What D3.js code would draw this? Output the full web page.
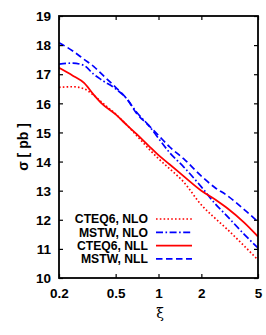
<!DOCTYPE html>
<html><head><meta charset="utf-8">
<script src="https://cdn.jsdelivr.net/npm/d3@7"></script>
<style>body{margin:0;background:#fff}svg{display:block}</style>
</head><body>
<script>
const xi = [0.2,0.25,0.3,0.35,0.4,0.5,0.6,0.7,0.85,1,1.2,1.5,2,2.5,3,4,5];
const cteqNLO = [16.55,16.57,16.5,16.28,16.03,15.63,15.25,14.9,14.45,14.1,13.75,13.3,12.51,12.05,11.7,11.1,10.62];
const mstwNLO = [17.35,17.38,17.3,17.0,16.8,16.5,16.15,15.7,15.25,14.8,14.3,13.82,13.13,12.55,12.15,11.5,11.03];
const cteqNLL = [17.22,16.95,16.7,16.3,15.99,15.62,15.25,14.95,14.55,14.22,13.9,13.5,13.0,12.7,12.42,11.9,11.42];
const mstwNLL = [18.08,17.8,17.51,17.27,17.0,16.55,16.15,15.66,15.25,14.9,14.5,14.1,13.5,13.1,12.85,12.35,11.93];
const xTicks = [0.2,0.5,1,2,5];
const xTickLabels = ["0.2","0.5","1","2","5"];
const yTicks = [10,11,12,13,14,15,16,17,18,19];
const seriesNames = ["CTEQ6, NLO","MSTW, NLO","CTEQ6, NLL","MSTW, NLL"];

(function(){
const W=266,H=335, L=59,R=258,T=16,B=278;
const svg=d3.select("body").append("svg").attr("width",W).attr("height",H);
const x=d3.scaleLog().domain([0.2,5]).range([L,R]);
const y=d3.scaleLinear().domain([10,19]).range([B,T]);
const font="'Liberation Sans', Arial, Helvetica, sans-serif";

const styles=[
 {c:"#ff0000",d:"1.6,2.2",w:1.7},
 {c:"#0000ff",d:"7,2.5,1.6,2.5",w:1.7},
 {c:"#ff0000",d:null,w:1.8},
 {c:"#0000ff",d:"6.5,3.5",w:1.7}
];
const data=[cteqNLO,mstwNLO,cteqNLL,mstwNLL];

const g=svg.append("g");
g.append("clipPath").attr("id","cp").append("rect").attr("x",L).attr("y",T).attr("width",R-L).attr("height",B-T);
const line=d3.line().x((d,i)=>x(xi[i])).y(d=>y(d)).curve(d3.curveMonotoneX);
data.forEach((s,k)=>{
  g.append("path").attr("d",line(s)).attr("fill","none").attr("stroke",styles[k].c)
   .attr("stroke-width",styles[k].w).attr("stroke-dasharray",styles[k].d).attr("clip-path","url(#cp)");
});

const ax=svg.append("g");
const aBottom=d3.axisBottom(x).tickValues(xTicks).tickFormat((d,i)=>xTickLabels[i]).tickSizeInner(-4).tickSizeOuter(0).tickPadding(10);
const aTop=d3.axisTop(x).tickValues(xTicks).tickFormat("").tickSizeInner(-4).tickSizeOuter(0);
const aLeft=d3.axisLeft(y).tickValues(yTicks).tickFormat(d3.format("d")).tickSizeInner(-4).tickSizeOuter(0).tickPadding(8);
const aRight=d3.axisRight(y).tickValues(yTicks).tickFormat("").tickSizeInner(-4).tickSizeOuter(0);
const gb=ax.append("g").attr("transform",`translate(0,${B})`).call(aBottom);
const gt=ax.append("g").attr("transform",`translate(0,${T})`).call(aTop);
const gl=ax.append("g").attr("transform",`translate(${L},0)`).call(aLeft);
const gr=ax.append("g").attr("transform",`translate(${R},0)`).call(aRight);
[gb,gt,gl,gr].forEach(a=>{a.select(".domain").remove();a.selectAll("line").attr("stroke","#000").attr("stroke-width",1.2);
  a.selectAll("text").attr("font-family",font).attr("font-weight","bold").attr("font-size",13.5).attr("fill","#000");});
gl.selectAll("text").attr("dy","0.35em");
svg.append("rect").attr("x",L).attr("y",T).attr("width",R-L).attr("height",B-T).attr("fill","none").attr("stroke","#000").attr("stroke-width",1.8);

svg.append("text").attr("transform",`translate(28,147) rotate(-90)`).attr("text-anchor","middle")
  .attr("font-family",font).attr("font-weight","bold").attr("font-size",14).text("σ [ pb ]");
svg.append("text").attr("x",160).attr("y",318).attr("text-anchor","middle")
  .attr("font-family","'DejaVu Serif', serif").attr("font-size",14).text("ξ");

const ly=[219,232.3,245.6,258.9];
seriesNames.forEach((n,k)=>{
  svg.append("text").attr("x",148).attr("y",ly[k]).attr("dy","0.35em").attr("text-anchor","end")
    .attr("font-family",font).attr("font-weight","bold").attr("font-size",12.2).text(n);
  svg.append("line").attr("x1",156).attr("x2",192).attr("y1",ly[k]).attr("y2",ly[k])
    .attr("stroke",styles[k].c).attr("stroke-width",styles[k].w).attr("stroke-dasharray",styles[k].d);
});
})();
</script>
</body></html>
